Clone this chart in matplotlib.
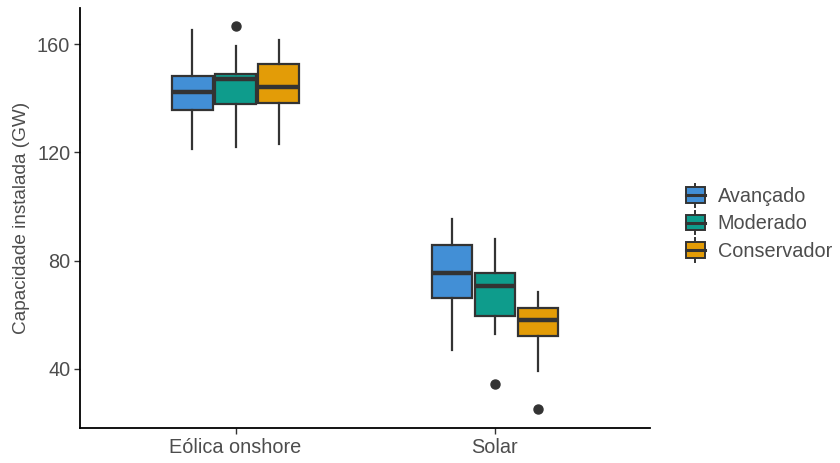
import matplotlib
matplotlib.use("Agg")
import matplotlib.pyplot as plt
from matplotlib.legend_handler import HandlerBase
from matplotlib.patches import Rectangle
from matplotlib.lines import Line2D

# Dados (GW)
categorias = ["Eólica onshore", "Solar"]
cenarios = ["Avançado", "Moderado", "Conservador"]
cores = ["#428fd6", "#0e9c8c", "#e39c07"]

# [whisker baixo, Q1, mediana, Q3, whisker alto] por cenário, por categoria
eolica = [
    [121.2, 135.6, 142.3, 148.2, 165.2],
    [122.0, 137.8, 147.1, 148.9, 159.3],
    [123.1, 138.2, 144.1, 152.6, 161.5],
]
solar = [
    [47.0, 66.2, 75.4, 85.8, 95.4],
    [52.9, 59.6, 70.6, 75.4, 88.0],
    [39.2, 52.2, 58.1, 62.5, 68.4],
]
outliers_eolica = [[], [166.6], []]
outliers_solar = [[], [34.4], [25.2]]

EDGE = "#333333"
TXT = "#4d4d4d"


class HandlerBox(HandlerBase):
    """Desenha a chave da legenda no estilo ggplot (caixa + mediana + whisker)."""

    def __init__(self, cor):
        super().__init__()
        self.cor = cor

    def create_artists(self, legend, orig_handle, xdescent, ydescent,
                       width, height, fontsize, trans):
        cx = width / 2 - xdescent
        bw = width * 0.85
        bh = height * 0.95
        by = -ydescent + (height - bh) / 2
        wl = Line2D([cx, cx], [-ydescent - height * 0.2, -ydescent + height * 1.2],
                    color=EDGE, lw=1.4, transform=trans)
        rect = Rectangle((cx - bw / 2, by), bw, bh, facecolor=self.cor,
                         edgecolor=EDGE, lw=1.4, transform=trans)
        med = Line2D([cx - bw / 2, cx + bw / 2], [by + bh / 2, by + bh / 2],
                     color=EDGE, lw=2.2, transform=trans)
        return [wl, rect, med]


plt.rcParams["font.family"] = ["Liberation Sans", "DejaVu Sans"]

fig = plt.figure(figsize=(8.4, 4.63), dpi=100)
ax = fig.add_axes([0.0952, 0.0756, 0.679, 0.907])

offsets = [-0.166, 0.0, 0.166]
largura = 0.155
for ci, (dados, outs) in enumerate([(eolica, outliers_eolica), (solar, outliers_solar)]):
    for si in range(3):
        lo, q1, med, q3, hi = dados[si]
        stats = [dict(whislo=lo, q1=q1, med=med, q3=q3, whishi=hi, fliers=outs[si])]
        ax.bxp(stats, positions=[ci + 1 + offsets[si]], widths=largura,
               patch_artist=True, showcaps=False,
               boxprops=dict(facecolor=cores[si], edgecolor=EDGE, linewidth=1.6),
               whiskerprops=dict(color=EDGE, linewidth=1.6),
               medianprops=dict(color=EDGE, linewidth=3.2),
               flierprops=dict(marker="o", markerfacecolor=EDGE,
                               markeredgecolor=EDGE, markersize=6.5))

ax.set_xlim(0.4, 2.6)
ax.set_ylim(18.2, 173.3)
ax.set_xticks([1, 2])
ax.set_xticklabels(categorias)
ax.set_yticks([40, 80, 120, 160])
ax.tick_params(axis="both", colors=EDGE, labelcolor=TXT, labelsize=14.3,
               length=4, width=1, pad=3)
for lado in ["top", "right"]:
    ax.spines[lado].set_visible(False)
for lado in ["left", "bottom"]:
    ax.spines[lado].set_linewidth(1.3)
    ax.spines[lado].set_color("black")
ax.set_ylabel("Capacidade instalada (GW)", color=TXT, fontsize=13.7, labelpad=5)

handles = [Rectangle((0, 0), 1, 1) for _ in cenarios]
leg = ax.legend(handles, cenarios,
                handler_map={h: HandlerBox(c) for h, c in zip(handles, cores)},
                loc="center left", bbox_to_anchor=(1.045, 0.486), frameon=False,
                fontsize=14.3, handlelength=1.15, handleheight=0.9,
                handletextpad=0.55, labelspacing=0.42, borderaxespad=0)
for t in leg.get_texts():
    t.set_color(TXT)

fig.savefig("out.png", dpi=100)
